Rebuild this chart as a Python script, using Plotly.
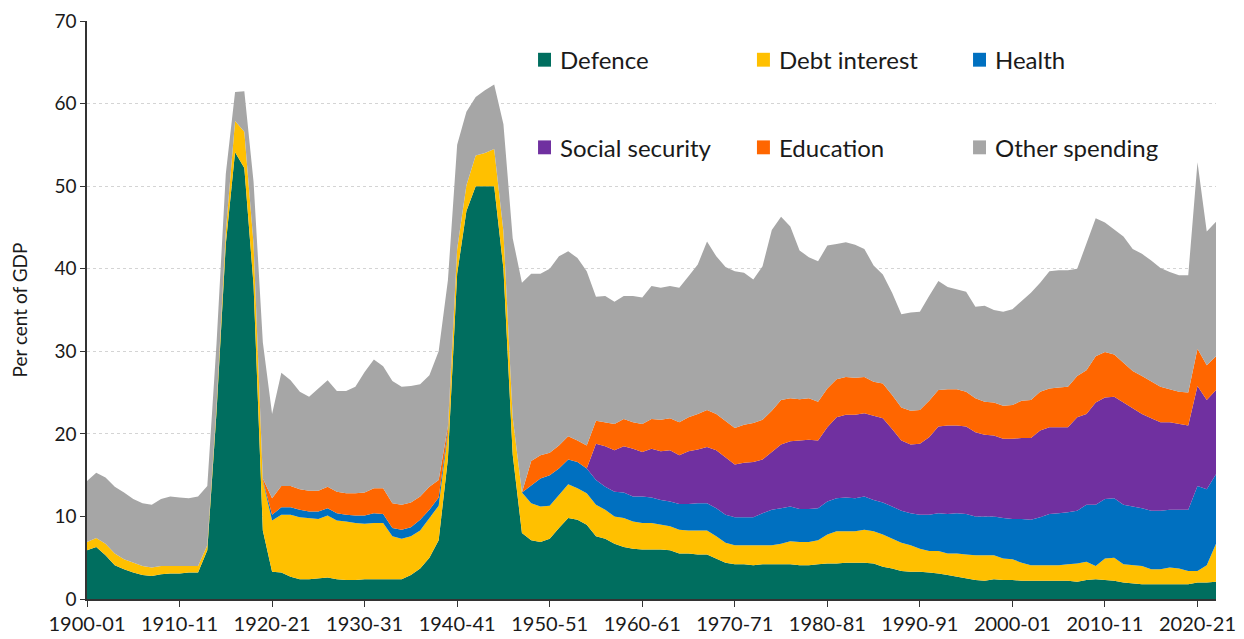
import plotly.graph_objects as go

# Financial years 1900-01 .. 2022-23, plotted by starting year
years = list(range(1900, 2023))

# Per cent of GDP
defence = [
    5.9, 6.3, 5.3, 4.1, 3.6, 3.2, 2.9, 2.8, 3.0, 3.1,
    3.1, 3.2, 3.2, 5.9, 22.7, 43.0, 54.1, 52.2, 38.0, 8.3,
    3.3, 3.2, 2.7, 2.4, 2.4, 2.5, 2.6, 2.4, 2.3, 2.3,
    2.4, 2.4, 2.4, 2.4, 2.4, 2.9, 3.7, 5.0, 7.1, 17.0,
    39.4, 47.0, 50.0, 50.0, 50.0, 40.0, 17.5, 8.0, 7.1, 6.9,
    7.3, 8.6, 9.8, 9.6, 9.0, 7.6, 7.3, 6.7, 6.3, 6.1,
    6.0, 6.0, 6.0, 5.9, 5.5, 5.5, 5.4, 5.4, 4.9, 4.4,
    4.2, 4.2, 4.1, 4.2, 4.2, 4.2, 4.2, 4.1, 4.1, 4.2,
    4.3, 4.3, 4.4, 4.4, 4.4, 4.3, 3.9, 3.7, 3.4, 3.3,
    3.3, 3.2, 3.1, 2.9, 2.7, 2.5, 2.3, 2.2, 2.4, 2.3,
    2.3, 2.2, 2.2, 2.2, 2.2, 2.2, 2.2, 2.1, 2.3, 2.4,
    2.3, 2.2, 2.0, 1.9, 1.8, 1.8, 1.8, 1.8, 1.8, 1.8,
    2.0, 2.0, 2.1,
]
debt_interest = [
    1.0, 1.1, 1.4, 1.4, 1.2, 1.2, 1.1, 1.0, 1.0, 0.9,
    0.9, 0.8, 0.8, 0.6, 0.7, 1.5, 3.8, 4.4, 5.0, 6.0,
    6.2, 7.0, 7.5, 7.5, 7.4, 7.2, 7.5, 7.1, 7.1, 6.9,
    6.7, 6.8, 6.8, 5.2, 4.9, 4.7, 4.6, 4.8, 4.2, 3.0,
    3.0, 3.1, 3.7, 4.0, 4.5, 4.5, 4.5, 4.9, 4.5, 4.3,
    4.0, 4.0, 4.1, 3.8, 3.8, 3.8, 3.5, 3.3, 3.5, 3.3,
    3.2, 3.2, 3.0, 2.9, 2.9, 2.8, 2.9, 2.9, 2.7, 2.4,
    2.3, 2.3, 2.4, 2.3, 2.3, 2.5, 2.8, 2.8, 2.8, 2.9,
    3.5, 3.9, 3.8, 3.8, 4.0, 3.9, 3.9, 3.6, 3.4, 3.2,
    2.8, 2.6, 2.7, 2.6, 2.8, 2.9, 3.0, 3.1, 2.9, 2.6,
    2.5, 2.2, 1.9, 1.9, 1.9, 1.9, 2.0, 2.2, 2.2, 1.6,
    2.6, 2.8, 2.2, 2.2, 2.2, 1.8, 1.8, 2.0, 1.9, 1.6,
    1.4, 2.1, 4.6,
]
health = [
    0, 0, 0, 0, 0, 0, 0, 0, 0, 0,
    0, 0, 0, 0, 0, 0, 0, 0, 0, 0.1,
    0.7, 0.9, 0.9, 0.9, 0.8, 0.9, 0.9, 0.9, 0.8, 0.9,
    1.0, 1.2, 1.1, 1.0, 1.1, 1.1, 1.3, 1.0, 1.0, 0.4,
    0, 0, 0, 0, 0, 0, 0, 0, 2.2, 3.4,
    3.7, 3.2, 3.0, 3.2, 3.0, 3.0, 2.8, 3.0, 3.1, 3.0,
    3.2, 3.1, 3.0, 3.0, 3.1, 3.2, 3.3, 3.3, 3.4, 3.4,
    3.4, 3.4, 3.4, 3.9, 4.3, 4.3, 4.2, 4.0, 4.0, 3.9,
    4.0, 4.0, 4.1, 4.0, 4.0, 3.8, 3.9, 3.9, 3.9, 3.9,
    4.1, 4.4, 4.6, 4.8, 4.9, 4.9, 4.7, 4.7, 4.7, 4.9,
    4.9, 5.3, 5.5, 5.8, 6.2, 6.3, 6.3, 6.4, 6.9, 7.4,
    7.2, 7.2, 7.2, 7.1, 7.0, 7.1, 7.1, 7.0, 7.1, 7.4,
    10.3, 9.2, 8.4,
]
social_security = [
    0, 0, 0, 0, 0, 0, 0, 0, 0, 0,
    0, 0, 0, 0, 0, 0, 0, 0, 0, 0,
    0, 0, 0, 0, 0, 0, 0, 0, 0, 0,
    0, 0, 0, 0, 0, 0, 0, 0, 0, 0,
    0, 0, 0, 0, 0, 0, 0, 0, 0, 0,
    0, 0, 0, 0, 0, 4.4, 4.9, 5.0, 5.6, 5.8,
    5.4, 5.9, 5.9, 6.2, 5.9, 6.4, 6.5, 6.8, 7.0, 6.9,
    6.4, 6.6, 6.7, 6.5, 7.0, 7.7, 7.9, 8.3, 8.4, 8.2,
    9.0, 9.8, 10.0, 10.1, 10.1, 10.2, 10.2, 9.4, 8.5, 8.3,
    8.6, 9.4, 10.5, 10.7, 10.6, 10.6, 10.2, 9.9, 9.8, 9.6,
    9.7, 9.8, 9.9, 10.5, 10.5, 10.4, 10.3, 11.3, 11.0, 12.4,
    12.3, 12.3, 12.4, 11.8, 11.4, 11.2, 10.7, 10.6, 10.4, 10.2,
    12.1, 10.8, 10.2,
]
education = [
    0, 0, 0, 0, 0, 0, 0, 0, 0, 0,
    0, 0, 0, 0, 0, 0, 0, 0, 0, 0.2,
    2.0, 2.6, 2.6, 2.5, 2.5, 2.5, 2.6, 2.6, 2.6, 2.7,
    2.8, 3.0, 3.1, 3.0, 3.0, 3.0, 2.8, 2.8, 2.1, 0.5,
    0, 0, 0, 0, 0, 0, 0, 0, 2.9, 2.8,
    2.7, 2.8, 2.8, 2.6, 2.8, 2.8, 2.9, 3.2, 3.3, 3.2,
    3.4, 3.6, 3.8, 3.9, 4.0, 4.1, 4.3, 4.5, 4.4, 4.4,
    4.4, 4.6, 4.7, 4.8, 5.0, 5.4, 5.2, 5.0, 5.0, 4.7,
    4.7, 4.6, 4.6, 4.5, 4.4, 4.1, 4.2, 4.1, 4.0, 4.1,
    4.1, 4.4, 4.4, 4.4, 4.4, 4.2, 4.1, 4.0, 4.0, 4.0,
    4.1, 4.5, 4.6, 4.7, 4.7, 4.8, 4.9, 5.0, 5.3, 5.6,
    5.5, 5.1, 4.8, 4.6, 4.6, 4.4, 4.3, 4.0, 3.9, 4.0,
    4.5, 4.2, 4.1,
]
other_spending = [
    7.4, 7.9, 8.0, 8.1, 8.1, 7.7, 7.6, 7.6, 8.1, 8.4,
    8.3, 8.2, 8.4, 7.2, 7.6, 7.0, 3.5, 4.9, 7.5, 16.5,
    10.2, 13.7, 12.8, 11.8, 11.4, 12.4, 12.9, 12.2, 12.4, 12.9,
    14.6, 15.6, 14.8, 14.8, 14.3, 14.1, 13.6, 13.5, 15.6, 17.7,
    12.6, 8.9, 7.1, 7.6, 7.8, 13.0, 21.7, 25.4, 22.7, 22.0,
    22.3, 22.9, 22.4, 22.1, 21.1, 15.0, 15.3, 14.8, 14.9, 15.3,
    15.3, 16.1, 16.0, 16.0, 16.3, 17.1, 18.1, 20.4, 19.1, 18.7,
    19.0, 18.4, 17.4, 18.6, 21.9, 22.2, 20.8, 18.0, 17.1, 17.0,
    17.3, 16.4, 16.3, 16.1, 15.5, 14.1, 13.2, 12.4, 11.3, 11.9,
    11.9, 12.7, 13.2, 12.4, 12.1, 12.1, 11.1, 11.6, 11.2, 11.4,
    11.6, 12.1, 13.0, 13.2, 14.2, 14.2, 14.1, 13.0, 15.4, 16.7,
    15.7, 15.1, 15.3, 14.8, 14.8, 14.7, 14.4, 14.2, 14.1, 14.2,
    22.6, 16.2, 16.3,
]

series = [
    ("Defence", defence, "#006E5F"),
    ("Debt interest", debt_interest, "#FFC000"),
    ("Health", health, "#0070C0"),
    ("Social security", social_security, "#7030A0"),
    ("Education", education, "#FF6600"),
    ("Other spending", other_spending, "#A6A6A6"),
]

tick_years = list(range(1900, 2021, 10))
tick_labels = ["1900-01", "1910-11", "1920-21", "1930-31", "1940-41", "1950-51",
               "1960-61", "1970-71", "1980-81", "1990-91", "2000-01", "2010-11",
               "2020-21"]

FONT = "Lato"

fig = go.Figure()

for name, values, colour in series:
    fig.add_trace(
        go.Scatter(
            x=years,
            y=values,
            name=name,
            mode="lines",
            stackgroup="one",
            line=dict(width=0, color=colour),
            fillcolor=colour,
            showlegend=False,
        )
    )

# Legend drawn by hand: two rows of three, square swatches
legend_cols = [0.3995, 0.5934, 0.7848]
legend_rows = [0.933, 0.7814]
for i, (name, values, colour) in enumerate(series):
    cx = legend_cols[i % 3]
    cy = legend_rows[i // 3]
    fig.add_shape(
        type="rect", xref="paper", yref="paper",
        x0=cx, x1=cx + 0.0115, y0=cy - 0.012, y1=cy + 0.012,
        fillcolor=colour, line=dict(width=0),
    )
    fig.add_annotation(
        x=cx + 0.0177, y=cy, xref="paper", yref="paper",
        text=name, showarrow=False, xanchor="left", yanchor="middle",
        font=dict(family=FONT, size=24, color="#1a1a1a"),
    )

fig.update_xaxes(
    range=[1900, 2022],
    tickvals=tick_years,
    ticktext=tick_labels,
    ticks="outside",
    ticklen=6,
    tickcolor="#333333",
    showline=True,
    linecolor="#333333",
    linewidth=1.5,
    showgrid=False,
    zeroline=False,
    automargin=False,
    ticklabeloverflow="allow",
    tickfont=dict(family=FONT, size=20, color="#1a1a1a"),
)
fig.update_yaxes(
    range=[0, 70],
    tickvals=[0, 10, 20, 30, 40, 50, 60, 70],
    ticks="outside",
    ticklen=5,
    tickcolor="#333333",
    showline=True,
    linecolor="#333333",
    linewidth=1.5,
    showgrid=True,
    gridcolor="#d4d4d4",
    griddash="dot",
    gridwidth=1,
    zeroline=False,
    automargin=False,
    ticklabeloverflow="allow",
    title=dict(text="Per cent of GDP", standoff=22,
               font=dict(family=FONT, size=19, color="#1a1a1a")),
    tickfont=dict(family=FONT, size=19, color="#1a1a1a"),
)

fig.update_layout(
    width=1244,
    height=639,
    margin=dict(l=79, r=36, t=13, b=48),
    plot_bgcolor="white",
    paper_bgcolor="white",
    font=dict(family=FONT),
)

fig.write_html("out.html")
